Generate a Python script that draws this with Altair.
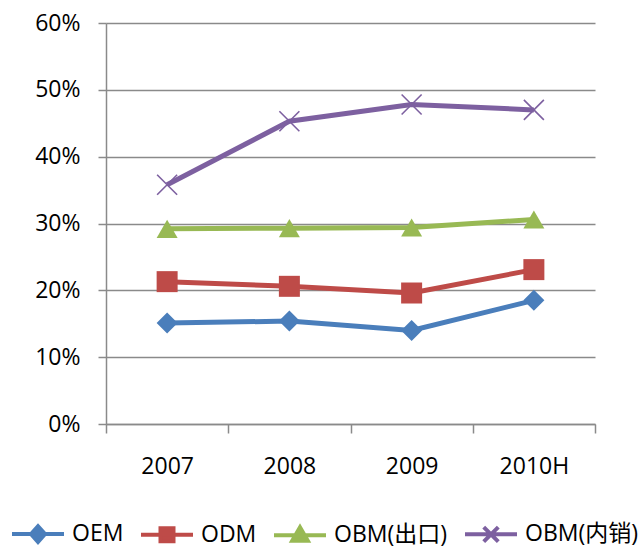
import altair as alt
import pandas as pd

# Category axis and series
years = ["2007", "2008", "2009", "2010H"]
series_names = ["OEM", "ODM", "OBM(出口)", "OBM(内销)"]

oem = [0.151, 0.154, 0.140, 0.185]
odm = [0.213, 0.206, 0.196, 0.231]
obm_export = [0.292, 0.293, 0.294, 0.306]
obm_domestic = [0.358, 0.453, 0.478, 0.470]

colors = ["#4A7EBB", "#BE4B48", "#98B954", "#7D60A0"]
y_ticks = [0.0, 0.1, 0.2, 0.3, 0.4, 0.5, 0.6]

FONT = "Open Sans, Noto Sans CJK SC, sans-serif"
GREY = "#8a8a8a"

rows = []
for name, vals in zip(series_names, [oem, odm, obm_export, obm_domestic]):
    for yr, v in zip(years, vals):
        rows.append({"year": yr, "series": name, "value": v})
df = pd.DataFrame(rows)

# marker shapes used on the plot
x_mark = "M-1,-1L1,1M1,-1L-1,1"
marker_shapes = ["diamond", "square", "triangle-up"]

# legend glyphs: a short line with the series marker in the middle
legend_paths = [
    "M-1,0H1M-0.27,0L0,-0.3L0.27,0L0,0.3Z",
    "M-1,0H1M-0.25,-0.25H0.25V0.25H-0.25Z",
    "M-1,0H1M0,-0.3L0.3,0.22H-0.3Z",
    "M-1,0H1M-0.28,-0.28L0.28,0.28M0.28,-0.28L-0.28,0.28",
]

x_enc = alt.X(
    "year:N",
    sort=years,
    scale=alt.Scale(type="band", domain=years, paddingInner=0, paddingOuter=0),
    axis=alt.Axis(
        title=None, labelAngle=0, tickBand="extent", tickSize=9, tickWidth=1.5,
        tickColor=GREY, domainColor=GREY, domainWidth=1.5, grid=False,
        labelFont=FONT, labelFontSize=23, labelColor="black", labelPadding=22,
    ),
)
y_enc = alt.Y(
    "value:Q",
    scale=alt.Scale(domain=[0, 0.6], nice=False, zero=True),
    axis=alt.Axis(
        title=None, values=y_ticks, format=".0%", grid=True, gridColor=GREY,
        gridWidth=1.5, tickSize=8, tickWidth=1.5, tickColor=GREY,
        domainColor=GREY, domainWidth=1.5, labelFont=FONT, labelFontSize=23,
        labelColor="black", labelPadding=18,
    ),
)
color_scale = alt.Scale(domain=series_names, range=colors)

base = alt.Chart(df)

lines = base.mark_line(strokeWidth=5).encode(
    x=x_enc, y=y_enc,
    color=alt.Color("series:N", scale=color_scale, legend=None),
    detail="series:N",
)

filled_points = base.transform_filter(
    alt.FieldOneOfPredicate(field="series", oneOf=series_names[:3])
).mark_point(filled=True, size=441, opacity=1).encode(
    x=x_enc, y=y_enc,
    color=alt.Color("series:N", scale=color_scale, legend=None),
    shape=alt.Shape("series:N",
                    scale=alt.Scale(domain=series_names[:3], range=marker_shapes),
                    legend=None),
)

cross_points = base.transform_filter(
    alt.datum.series == series_names[3]
).mark_point(filled=False, size=400, opacity=1, strokeWidth=1.6, shape=x_mark).encode(
    x=x_enc, y=y_enc,
    color=alt.Color("series:N", scale=color_scale, legend=None),
)

legend_def = alt.Legend(
    title=None, orient="none", legendX=-96, legendY=483, direction="horizontal",
    columns=4, symbolSize=2704, symbolStrokeWidth=4, labelFont=FONT,
    labelFontSize=23, labelColor="black", labelOffset=6, columnPadding=9,
    labelLimit=400,
)
legend_layer = base.transform_filter("false").mark_point(
    filled=True, strokeWidth=4, opacity=1
).encode(
    x=x_enc, y=y_enc,
    fill=alt.Fill("series:N", scale=alt.Scale(domain=series_names, range=colors), legend=legend_def),
    stroke=alt.Stroke("series:N", scale=alt.Scale(domain=series_names, range=colors), legend=legend_def),
    shape=alt.Shape("series:N", scale=alt.Scale(domain=series_names, range=legend_paths), legend=legend_def),
)

chart = alt.layer(lines, filled_points, cross_points, legend_layer).resolve_scale(
    shape="independent", fill="independent", stroke="independent"
).properties(
    width=489, height=401,
    padding={"left": 106, "top": 23, "right": 47, "bottom": 122},
    autosize=alt.AutoSizeParams(type="none"),
    background="white",
).configure_view(stroke=None)

chart.save("out.html", embed_options={"renderer": "svg", "actions": False})
